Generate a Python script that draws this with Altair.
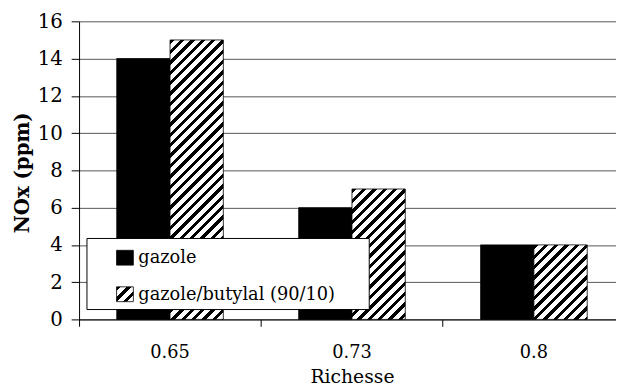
import altair as alt
import pandas as pd

# ---- data ----
categories = ["0.65", "0.73", "0.8"]
series = ["gazole", "gazole/butylal (90/10)"]
gazole = [14, 6, 4]
butylal = [15, 7, 4]
y_ticks = [0, 2, 4, 6, 8, 10, 12, 14, 16]

rows = []
for c, g, b in zip(categories, gazole, butylal):
    rows.append({"Richesse": c, "serie": series[0], "NOx": g})
    rows.append({"Richesse": c, "serie": series[1], "NOx": b})
df = pd.DataFrame(rows)

# ---- layout / style ----
FONT = "DejaVu Serif"
PLOT_W = 544          # visible plot width
RANGE_W = 553         # full band range (right end is cropped in the reference)
PLOT_H = 302
Y_MAX = 16
OFF_PAD = 0.707
STEP = RANGE_W / len(categories)
BAR_W = STEP / (2 + 2 * OFF_PAD)


def hatch(W, H, period=10.5, black=0.42):
    r = H / W
    s = (1 + r) / (1 + r * r)
    L = W + H
    stops = []
    pos = 0.0
    while pos < L:
        a = pos / L
        b = min((pos + black * period) / L, 1.0)
        c = min((pos + period) / L, 1.0)
        stops += [
            {"offset": a, "color": "black"},
            {"offset": b, "color": "black"},
            {"offset": b, "color": "white"},
            {"offset": c, "color": "white"},
        ]
        pos += period
    return {"gradient": "linear", "x1": 0, "y1": 0, "x2": s, "y2": s * r, "stops": stops}


x_enc = alt.X(
    "Richesse:N",
    sort=categories,
    scale=alt.Scale(domain=categories, range=[0, RANGE_W], paddingInner=0, paddingOuter=0),
    axis=alt.Axis(
        title="Richesse",
        labelAngle=0,
        bandPosition=0,
        tickSize=7,
        labelPadding=27,
        labelBaseline="middle",
        labelOverlap=False,
        labelFont=FONT,
        labelFontSize=18,
        titleFont=FONT,
        titleFontSize=19,
        titleX=RANGE_W / 2,
        titleY=58,
        titleBaseline="middle",
        titleFontWeight="normal",
        grid=False,
    ),
)
xoff_enc = alt.XOffset(
    "serie:N",
    scale=alt.Scale(domain=series, paddingInner=0, paddingOuter=OFF_PAD),
)
y_enc = alt.Y(
    "NOx:Q",
    scale=alt.Scale(domain=[0, Y_MAX], nice=False),
    axis=alt.Axis(
        title="NOx (ppm)",
        values=y_ticks,
        format="d",
        tickSize=8,
        labelPadding=9,
        labelFont=FONT,
        labelFontSize=20,
        titleFont=FONT,
        titleFontSize=20,
        titleX=-57,
        titleY=PLOT_H / 2 + 2,
        titleAngle=-90,
        titleAlign="center",
        titleBaseline="middle",
        titleFontWeight="bold",
        grid=True,
        gridColor="#555555",
        gridWidth=1,
    ),
)

base = alt.Chart(df).encode(x=x_enc, xOffset=xoff_enc, y=y_enc)

layers = [
    base.mark_bar(fill="black", stroke="black", strokeWidth=0.8).transform_filter(
        alt.datum.serie == series[0]
    )
]
for cat, val in zip(categories, butylal):
    H = val / Y_MAX * PLOT_H
    layers.append(
        base.mark_bar(fill=hatch(BAR_W, H), stroke="black", strokeWidth=0.8).transform_filter(
            (alt.datum.serie == series[1]) & (alt.datum.Richesse == cat)
        )
    )

# ---- manual legend ----
one = alt.Chart(pd.DataFrame({"k": [0]}))
legend_box = one.mark_rect(fill="white", stroke="black", strokeWidth=1).encode(
    x=alt.value(8), x2=alt.value(294), y=alt.value(220), y2=alt.value(292)
)
sym1 = one.mark_rect(fill="black", stroke="black", strokeWidth=0.8).encode(
    x=alt.value(38), x2=alt.value(55), y=alt.value(232), y2=alt.value(247)
)
sym2 = one.mark_rect(fill=hatch(17, 15, period=10.5), stroke="black", strokeWidth=0.8).encode(
    x=alt.value(38), x2=alt.value(55), y=alt.value(269), y2=alt.value(284)
)
txt1 = one.mark_text(text=series[0], align="left", baseline="middle", font=FONT, fontSize=18).encode(
    x=alt.value(60), y=alt.value(240)
)
txt2 = one.mark_text(text=series[1], align="left", baseline="middle", font=FONT, fontSize=18).encode(
    x=alt.value(60), y=alt.value(277)
)

chart = (
    alt.layer(*layers, legend_box, sym1, sym2, txt1, txt2)
    .properties(
        width=PLOT_W,
        height=PLOT_H,
        padding={"left": 72, "top": 11, "right": 0, "bottom": 68},
        autosize=alt.AutoSizeParams(type="none"),
        background="white",
    )
    .configure(font=FONT)
    .configure_view(stroke=None)
    .configure_axis(
        labelColor="black",
        titleColor="black",
        domainColor="black",
        domainWidth=1,
        tickColor="black",
        tickWidth=1,
    )
)

chart.save("out.html", embed_options={"renderer": "svg", "actions": False})
